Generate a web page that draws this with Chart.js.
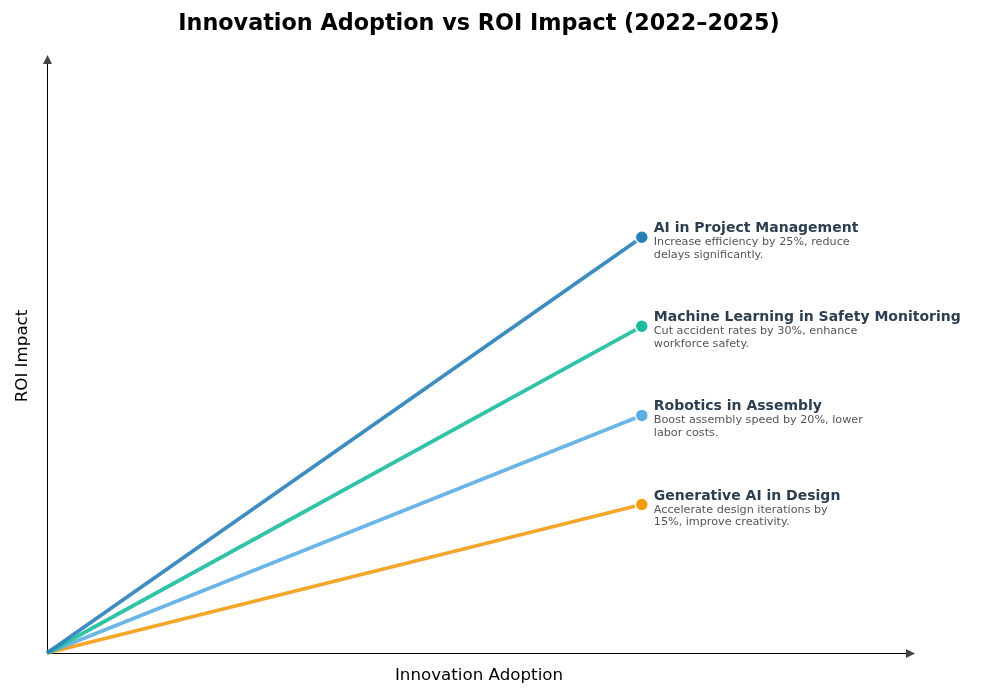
<!DOCTYPE html>
<html>
<head>
<meta charset="utf-8">
<script src="https://cdn.jsdelivr.net/npm/chart.js@4"></script>
<style>
  html, body { margin: 0; padding: 0; background: #fff; }
  #wrap { width: 1000px; height: 700px; position: relative; }
</style>
</head>
<body>
<div id="wrap"><canvas id="c"></canvas></div>
<script>
const chartTitle = 'Innovation Adoption vs ROI Impact (2022–2025)';
const xAxisLabel = 'Innovation Adoption';
const yAxisLabel = 'ROI Impact';
const categories = ['AI in Project Management', 'Machine Learning in Safety Monitoring', 'Robotics in Assembly', 'Generative AI in Design'];
const descriptions = [
  ['Increase efficiency by 25%, reduce', 'delays significantly.'],
  ['Cut accident rates by 30%, enhance', 'workforce safety.'],
  ['Boost assembly speed by 20%, lower', 'labor costs.'],
  ['Accelerate design iterations by', '15%, improve creativity.']
];
const startAdoption = [0, 0, 0, 0];
const startROI = [0, 0, 0, 0];
const endAdoption = [6.9, 6.9, 6.9, 6.9];
const endROI = [7, 5.5, 4, 2.5];
const markerColors = ['#2980b9', '#1abc9c', '#5dade2', '#f39c12'];
const lineColors = ['rgba(41,128,185,0.9)', 'rgba(26,188,156,0.9)', 'rgba(93,173,226,0.9)', 'rgba(243,156,18,0.9)'];
const xMax = 10;
const yMax = 10;

const datasets = categories.map((name, i) => ({
  label: name,
  data: [{x: startAdoption[i], y: startROI[i]}, {x: endAdoption[i], y: endROI[i]}],
  borderColor: lineColors[i],
  borderWidth: 3.8,
  pointRadius: [0, 6.5],
  pointHoverRadius: [0, 6.5],
  pointBackgroundColor: markerColors[i],
  pointBorderColor: '#ffffff',
  pointBorderWidth: 1.5,
  clip: false,
  order: i,
  tension: 0
}));

const decorPlugin = {
  id: 'decor',
  beforeDatasetsDraw(chart) {
    const ctx = chart.ctx;
    const a = chart.chartArea;
    ctx.save();
    ctx.strokeStyle = '#000';
    ctx.lineWidth = 1;
    ctx.beginPath();
    ctx.moveTo(a.left, a.bottom + 0.5);
    ctx.lineTo(a.right, a.bottom + 0.5);
    ctx.moveTo(a.left + 0.5, a.bottom);
    ctx.lineTo(a.left + 0.5, a.top);
    ctx.stroke();
    ctx.fillStyle = '#444';
    ctx.beginPath();
    ctx.moveTo(a.right - 3, a.bottom + 0.5 - 4.5);
    ctx.lineTo(a.right + 6, a.bottom + 0.5);
    ctx.lineTo(a.right - 3, a.bottom + 0.5 + 4.5);
    ctx.closePath();
    ctx.fill();
    ctx.beginPath();
    ctx.moveTo(a.left + 0.5 - 4.5, a.top + 5);
    ctx.lineTo(a.left + 0.5, a.top - 4);
    ctx.lineTo(a.left + 0.5 + 4.5, a.top + 5);
    ctx.closePath();
    ctx.fill();
    ctx.restore();
  },
  afterDraw(chart) {
    const ctx = chart.ctx;
    const a = chart.chartArea;
    const xs = chart.scales.x, ys = chart.scales.y;
    ctx.save();
    ctx.fillStyle = '#000';
    ctx.font = 'bold 22.3px "DejaVu Sans"';
    ctx.textAlign = 'center';
    ctx.textBaseline = 'middle';
    ctx.fillText(chartTitle, 479, 24);
    ctx.font = '16.7px "DejaVu Sans"';
    ctx.fillText(xAxisLabel, 479, 676);
    ctx.save();
    ctx.translate(23, (a.top + a.bottom) / 2);
    ctx.rotate(-Math.PI / 2);
    ctx.fillText(yAxisLabel, 0, 0);
    ctx.restore();
    ctx.textAlign = 'left';
    ctx.textBaseline = 'alphabetic';
    categories.forEach((name, i) => {
      const px = xs.getPixelForValue(endAdoption[i]) + 12;
      const py = ys.getPixelForValue(endROI[i]);
      ctx.fillStyle = '#2c3e50';
      ctx.font = 'bold 14px "DejaVu Sans"';
      ctx.fillText(name, px, py - 5);
      ctx.fillStyle = '#555555';
      ctx.font = '11.2px "DejaVu Sans"';
      descriptions[i].forEach((line, j) => {
        ctx.fillText(line, px, py + 8 + j * 12.8);
      });
    });
    ctx.restore();
  }
};

new Chart(document.getElementById('c'), {
  type: 'line',
  data: { datasets },
  options: {
    responsive: true,
    maintainAspectRatio: false,
    animation: false,
    layout: { padding: { left: 47, right: 91, top: 59, bottom: 47 } },
    plugins: { legend: { display: false }, tooltip: { enabled: false }, title: { display: false } },
    scales: {
      x: { type: 'linear', min: 0, max: xMax, display: false },
      y: { type: 'linear', min: 0, max: yMax, display: false }
    }
  },
  plugins: [decorPlugin]
});
</script>
</body>
</html>
